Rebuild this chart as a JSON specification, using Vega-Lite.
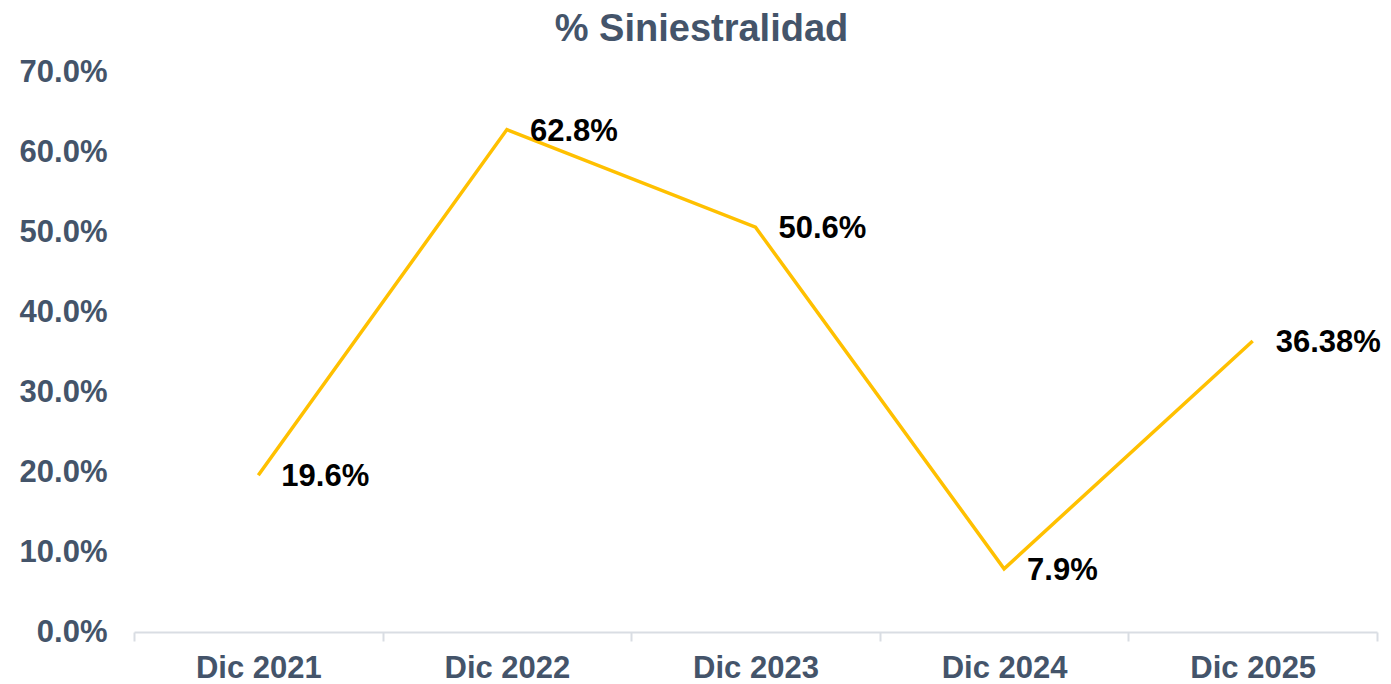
{
  "$schema": "https://vega.github.io/schema/vega-lite/v6.json",
  "autosize": "none",
  "width": 1243,
  "height": 560,
  "padding": {"left": 134, "top": 72, "right": 14, "bottom": 52},
  "background": "white",
  "config": {"view": {"stroke": null}, "font": "Liberation Sans"},
  "title": {
    "text": "% Siniestralidad",
    "font": "Liberation Sans",
    "fontSize": 38,
    "fontWeight": "bold",
    "color": "#44546A",
    "anchor": "middle",
    "dx": -54,
    "offset": 7
  },
  "data": {
    "values": [
      {"periodo": "Dic 2021", "valor": 0.196, "etiqueta": "19.6%"},
      {"periodo": "Dic 2022", "valor": 0.628, "etiqueta": "62.8%"},
      {"periodo": "Dic 2023", "valor": 0.506, "etiqueta": "50.6%"},
      {"periodo": "Dic 2024", "valor": 0.079, "etiqueta": "7.9%"},
      {"periodo": "Dic 2025", "valor": 0.3638, "etiqueta": "36.38%"}
    ]
  },
  "encoding": {
    "x": {
      "field": "periodo",
      "type": "nominal",
      "sort": null,
      "scale": {"type": "band", "paddingInner": 0, "paddingOuter": 0},
      "axis": {
        "title": null,
        "labelAngle": 0,
        "labelFont": "Liberation Sans",
        "labelFontSize": 31,
        "labelFontWeight": "bold",
        "labelColor": "#44546A",
        "labelPadding": 12,
        "domainColor": "#D9DDE3",
        "domainWidth": 2,
        "tickColor": "#D9DDE3",
        "tickWidth": 2,
        "tickSize": 9,
        "tickBand": "extent",
        "grid": false
      }
    },
    "y": {
      "field": "valor",
      "type": "quantitative",
      "scale": {"domain": [0, 0.7], "nice": false},
      "axis": {
        "title": null,
        "values": [0, 0.1, 0.2, 0.3, 0.4, 0.5, 0.6, 0.7],
        "format": ".1%",
        "labelFont": "Liberation Sans",
        "labelFontSize": 31,
        "labelFontWeight": "bold",
        "labelColor": "#44546A",
        "labelPadding": 27,
        "domain": false,
        "ticks": false,
        "grid": false
      }
    }
  },
  "layer": [
    {
      "mark": {"type": "line", "color": "#FFC000", "strokeWidth": 3.5}
    },
    {
      "mark": {
        "type": "text",
        "align": "left",
        "baseline": "middle",
        "dx": 23,
        "dy": 2,
        "font": "Liberation Sans",
        "fontSize": 31,
        "fontWeight": "bold",
        "color": "#000000"
      },
      "encoding": {"text": {"field": "etiqueta"}}
    }
  ]
}
